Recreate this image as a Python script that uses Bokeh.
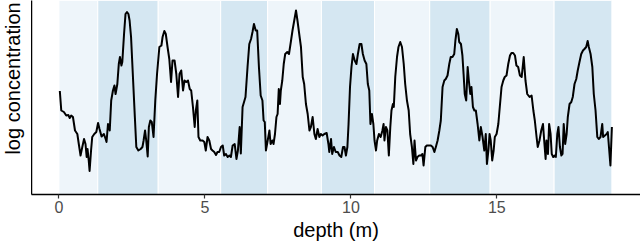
from bokeh.plotting import figure
from bokeh.layouts import row
from bokeh.models import Range1d, FixedTicker
from bokeh.core.properties import value
from bokeh.embed import file_html
from bokeh.resources import INLINE

depth = [
    0.03, 0.08, 0.17, 0.25, 0.32, 0.37, 0.42, 0.48, 0.55, 0.63, 0.68, 0.74, 0.80, 0.86, 0.91, 0.95, 0.98, 1.02, 1.05, 1.10,
    1.14, 1.21, 1.28, 1.34, 1.39, 1.46, 1.54, 1.60, 1.63, 1.68, 1.74, 1.79, 1.85, 1.90, 1.94, 2.00, 2.05, 2.09, 2.14, 2.17,
    2.23, 2.28, 2.33, 2.38, 2.42, 2.47, 2.53, 2.60, 2.65, 2.72, 2.80, 2.86, 2.90, 2.95, 2.99, 3.04, 3.08,
    3.13, 3.18, 3.24, 3.30, 3.36, 3.44, 3.51, 3.55, 3.61, 3.66, 3.72, 3.78, 3.84, 3.89, 3.96, 4.02, 4.08, 4.13, 4.19, 4.25,
    4.30, 4.36, 4.42, 4.48, 4.53, 4.59, 4.65, 4.69, 4.74, 4.78, 4.84, 4.92, 4.98, 5.03, 5.09, 5.15, 5.21, 5.26, 5.32, 5.38,
    5.43, 5.49, 5.55, 5.61, 5.66, 5.72, 5.78, 5.84, 5.89, 5.95, 6.02, 6.08, 6.13, 6.19, 6.23, 6.29,
    6.39, 6.46, 6.52, 6.58, 6.63, 6.68, 6.74, 6.79, 6.85, 6.91, 6.97, 7.01, 7.05, 7.09, 7.15, 7.21, 7.25, 7.31, 7.35, 7.40,
    7.45, 7.49, 7.53, 7.57, 7.60, 7.65, 7.70, 7.75, 7.82, 7.88, 7.95, 8.00, 8.06, 8.12, 8.17, 8.23, 8.29, 8.35, 8.40, 8.46,
    8.52, 8.58, 8.63, 8.69, 8.75, 8.80, 8.86, 8.92, 8.97, 9.03, 9.09, 9.17, 9.23, 9.26, 9.32, 9.36, 9.42, 9.48,
    9.55, 9.61, 9.67, 9.73, 9.78, 9.83, 9.88, 9.92, 9.97, 10.02, 10.07, 10.13, 10.19, 10.24, 10.30, 10.36, 10.41, 10.47, 10.53, 10.58,
    10.63, 10.67, 10.72, 10.77, 10.81, 10.86, 10.90, 10.96, 11.02, 11.08, 11.12, 11.15, 11.20, 11.25, 11.30, 11.35, 11.39, 11.44, 11.47, 11.52,
    11.58, 11.63, 11.69, 11.75, 11.81, 11.86, 11.92, 11.98, 12.03, 12.09, 12.14, 12.18, 12.23, 12.28, 12.34, 12.40, 12.45, 12.49, 12.55, 12.60,
    12.66,
    12.74, 12.80, 12.86, 12.91, 12.97, 13.03, 13.08, 13.14, 13.20, 13.25, 13.31, 13.37, 13.42, 13.48, 13.54, 13.58, 13.63, 13.68, 13.71, 13.77,
    13.82, 13.86, 13.90, 13.95, 14.00, 14.04, 14.09, 14.13, 14.18, 14.23, 14.28, 14.34, 14.40, 14.45, 14.51, 14.57, 14.62, 14.66, 14.71, 14.75,
    14.79, 14.84, 14.89, 14.93, 14.99, 15.05, 15.10, 15.16, 15.22, 15.27, 15.33, 15.39, 15.45, 15.50, 15.56, 15.62, 15.67, 15.73, 15.79, 15.85,
    15.92, 15.98, 16.04, 16.12, 16.19, 16.25, 16.30, 16.36, 16.40, 16.46, 16.52, 16.58, 16.63, 16.67, 16.70, 16.75, 16.79, 16.84, 16.88, 16.93,
    16.98, 17.02, 17.07, 17.11, 17.16, 17.21, 17.25, 17.29, 17.34, 17.39, 17.43, 17.49, 17.55, 17.60, 17.66, 17.72, 17.77, 17.83, 17.89, 17.95,
    18.00, 18.06, 18.11, 18.15, 18.21, 18.27, 18.32, 18.38, 18.44, 18.49, 18.55, 18.61, 18.64, 18.70, 18.76, 18.80, 18.84, 18.89, 18.94,
]

log_conc = [
    2.19, 1.80, 1.77, 1.70, 1.71, 1.65, 1.70, 1.67, 1.40, 1.33, 1.13, 0.90, 1.07, 1.23, 1.13, 0.87, 1.03, 0.80, 0.59, 1.00,
    1.27, 1.33, 1.37, 1.55, 1.43, 1.28, 1.33, 1.23, 1.17, 1.53, 1.40, 2.00, 2.20, 2.30, 2.13, 2.33, 2.73, 2.87, 2.70, 2.77,
    3.33, 3.73, 3.77, 3.73, 3.60, 3.27, 2.53, 1.67, 1.07, 1.00, 1.03, 1.07, 1.20, 1.40, 1.20, 0.88, 1.47,
    1.60, 1.57, 1.27, 2.00, 2.53, 3.07, 3.10, 3.27, 3.39, 3.33, 3.07, 2.83, 2.37, 2.80, 2.80, 2.53, 2.07, 2.53, 2.60, 2.20,
    2.40, 2.37, 2.40, 2.23, 2.20, 1.87, 1.47, 1.80, 2.00, 1.27, 1.20, 1.20, 1.17, 1.00, 1.27, 1.20, 1.03, 1.00, 0.97, 0.91,
    0.97, 0.97, 1.07, 1.10, 0.90, 0.93, 0.87, 0.90, 0.87, 1.10, 1.13, 0.83, 1.00, 1.47, 0.94, 1.87,
    2.07, 2.67, 3.13, 3.23, 3.37, 3.53, 3.40, 3.40, 2.67, 2.10, 2.00, 1.60, 1.57, 1.00, 1.20, 1.40, 1.13, 1.20, 1.13, 1.33,
    1.67, 1.73, 2.23, 1.93, 2.20, 2.40, 2.73, 2.93, 2.97, 2.93, 3.20, 3.40, 3.60, 3.80, 3.60, 3.33, 3.07, 2.47, 2.33, 1.93,
    1.73, 1.40, 1.47, 1.67, 1.33, 1.23, 1.43, 1.27, 1.33, 1.30, 1.33, 1.35, 1.13, 0.97, 1.23, 0.93, 1.07, 0.97,
    0.97, 0.90, 0.87, 1.07, 1.07, 0.90, 1.07, 1.53, 2.27, 2.67, 2.93, 2.80, 2.73, 2.93, 3.13, 3.13, 2.93, 2.80, 2.73, 2.33,
    2.20, 1.53, 1.73, 1.53, 1.20, 1.00, 1.20, 1.33, 1.27, 1.40, 1.53, 1.20, 1.47, 1.40, 0.90, 1.47, 1.80, 1.93, 1.87, 2.47,
    2.87, 3.07, 3.17, 3.07, 2.73, 2.33, 2.00, 1.80, 1.33, 1.07, 0.73, 1.20, 0.80, 0.87, 0.90, 0.90, 0.93, 0.70, 1.07, 1.10,
    1.10,
    1.10, 1.07, 0.97, 1.07, 1.20, 1.40, 1.60, 2.27, 2.40, 2.43, 2.50, 2.73, 2.87, 2.87, 2.93, 3.20, 3.43, 3.33, 3.17, 3.13,
    2.90, 2.53, 2.13, 2.00, 2.67, 2.40, 2.13, 2.27, 1.87, 1.80, 1.80, 1.53, 1.20, 1.47, 1.27, 1.00, 1.33, 0.73, 1.00, 1.33,
    1.20, 0.80, 1.00, 1.27, 1.33, 1.53, 1.87, 2.27, 2.40, 2.47, 2.50, 2.73, 2.90, 2.95, 2.95, 2.90, 2.70, 2.67, 2.50, 2.47,
    2.87, 2.40, 2.13, 2.07, 2.10, 1.80, 1.60, 1.27, 1.07, 1.20, 1.40, 1.53, 1.13, 0.83, 1.20, 0.93, 1.53, 1.33, 0.93, 0.87,
    0.90, 0.87, 1.33, 1.47, 1.07, 0.90, 0.93, 1.53, 1.13, 1.33, 1.67, 1.93, 1.97, 2.07, 2.33, 2.43, 2.60, 2.77, 2.93, 3.00,
    3.03, 3.07, 3.19, 3.07, 2.93, 2.67, 2.13, 1.80, 1.27, 1.23, 1.27, 1.53, 1.27, 1.30, 1.33, 1.37, 1.07, 0.70, 1.47,
]

band_start = [0.0, 1.33, 3.40, 5.54, 7.15, 8.99, 10.81, 12.70, 14.77, 16.96]
band_end = [1.33, 3.40, 5.54, 7.15, 8.99, 10.81, 12.70, 14.77, 16.96, 18.94]
band_color = ["#eef5fa", "#d5e7f2"] * 5
x_ticks = [0, 5, 10, 15]
y_title = "log concentration"

X_LO, X_HI = -0.94, 19.92
Y_LO, Y_HI = 0.12, 4.0
FONT = "Liberation Sans"

# narrow strip holding the y-axis title
lab = figure(width=31, height=244, x_range=Range1d(0, 31), y_range=Range1d(0, 244),
             output_backend="svg", toolbar_location=None, x_axis_type=None, y_axis_type=None,
             min_border=0)
lab.outline_line_color = None
lab.grid.visible = False
lab.background_fill_color = "white"
lab.border_fill_color = "white"
lab.text(x=[12.5], y=[146], text=[y_title], angle=1.5708,
         text_align="center", text_baseline="middle",
         text_font=value(FONT), text_font_size="20px", text_color="black")

p = figure(
    width=609, height=244,
    x_range=Range1d(X_LO, X_HI), y_range=Range1d(Y_LO, Y_HI),
    output_backend="svg", toolbar_location=None,
    min_border_left=0, min_border_right=0, min_border_top=0, min_border_bottom=50,
)
p.background_fill_color = "white"
p.border_fill_color = "white"
p.outline_line_color = None
p.grid.visible = False

p.quad(left=band_start, right=band_end, bottom=Y_LO, top=Y_HI,
       fill_color=band_color, line_color="white", line_width=1)
p.line(depth, log_conc, line_color="black", line_width=2, line_join="round")

xa = p.xaxis[0]
xa.ticker = FixedTicker(ticks=x_ticks)
xa.axis_label = "depth (m)"
xa.axis_label_text_font = FONT
xa.axis_label_text_font_size = "20px"
xa.axis_label_text_font_style = "normal"
xa.axis_label_text_color = "black"
xa.axis_label_standoff = 3
xa.major_label_text_font = FONT
xa.major_label_text_font_size = "16px"
xa.major_label_text_color = "#4d4d4d"
xa.major_label_standoff = 2
xa.major_tick_out = 4
xa.major_tick_in = 0
xa.major_tick_line_color = "#333333"
xa.major_tick_line_width = 1.2
xa.minor_tick_line_color = None
xa.axis_line_color = "black"
xa.axis_line_width = 1.5

ya = p.yaxis[0]
ya.ticker = FixedTicker(ticks=[])
ya.major_tick_out = 0
ya.major_tick_in = 0
ya.minor_tick_line_color = None
ya.major_label_text_font_size = "0px"
ya.major_label_standoff = 0
ya.axis_line_color = "black"
ya.axis_line_width = 1.5

layout = row(lab, p, spacing=0)
open("out.html", "w").write(file_html(layout, INLINE))
